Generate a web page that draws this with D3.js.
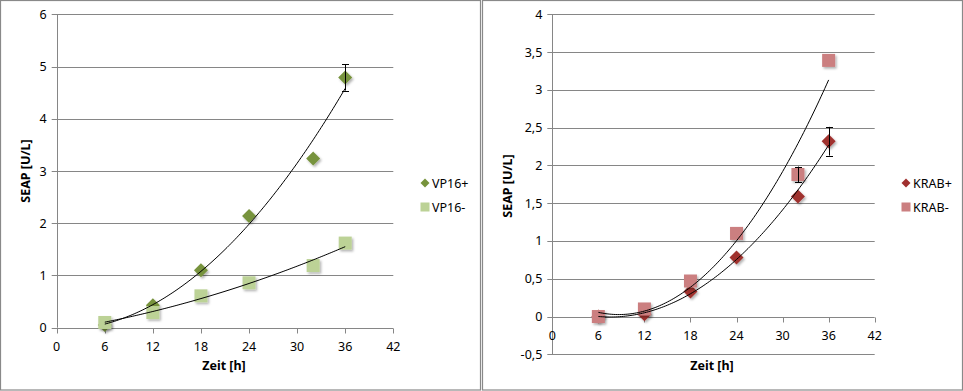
<!DOCTYPE html>
<html><head><meta charset="utf-8">
<script src="https://cdn.jsdelivr.net/npm/d3@7"></script>
<style>
html,body{margin:0;padding:0;background:#fff;}
svg{display:block;font-family:"Noto Sans",sans-serif;}
</style></head>
<body><svg id="c" width="963" height="391"></svg>
<script>
// ---- data ----
const timesH = [6, 12, 18, 24, 32, 36];
const vp16Plus  = [0.05, 0.43, 1.10, 2.14, 3.24, 4.79];
const vp16Minus = [0.10, 0.29, 0.61, 0.86, 1.19, 1.62];
const krabPlus  = [0.00, 0.03, 0.33, 0.78, 1.59, 2.32];
const krabMinus = [0.00, 0.10, 0.47, 1.10, 1.88, 3.39];
const vp16PlusErr  = [0, 0, 0, 0, 0, 0.25];
const vp16MinusErr = [0, 0, 0, 0, 0, 0];
const krabPlusErr  = [0, 0, 0, 0, 0, 0.19];
const krabMinusErr = [0, 0, 0, 0, 0.105, 0];
const xTicks = [0, 6, 12, 18, 24, 30, 36, 42];
const yTicksLeft = [0, 1, 2, 3, 4, 5, 6];
const yTicksRight = [-0.5, 0, 0.5, 1, 1.5, 2, 2.5, 3, 3.5, 4];
const legendLeft = ["VP16+", "VP16-"];
const legendRight = ["KRAB+", "KRAB-"];
const xTitle = "Zeit [h]";
const yTitle = "SEAP [U/L]";

const svg = d3.select("#c");
const defs = svg.append("defs");
const f = defs.append("filter").attr("id","sh").attr("x","-50%").attr("y","-50%").attr("width","200%").attr("height","200%");
f.append("feDropShadow").attr("dx",1.5).attr("dy",1.8).attr("stdDeviation",1.2).attr("flood-color","#000").attr("flood-opacity",0.3);

// least squares quadratic fit
function polyFit2(xs, ys){
  let n=xs.length,S=[0,0,0,0,0],T=[0,0,0];
  for(let i=0;i<n;i++){const x=xs[i],y=ys[i];
    for(let k=0;k<5;k++)S[k]+=Math.pow(x,k);
    for(let k=0;k<3;k++)T[k]+=y*Math.pow(x,k);}
  const A=[[S[0],S[1],S[2],T[0]],[S[1],S[2],S[3],T[1]],[S[2],S[3],S[4],T[2]]];
  for(let i=0;i<3;i++){for(let j=i+1;j<3;j++){const r=A[j][i]/A[i][i];for(let k=i;k<4;k++)A[j][k]-=r*A[i][k];}}
  const c=[0,0,0];
  for(let i=2;i>=0;i--){let s=A[i][3];for(let k=i+1;k<3;k++)s-=A[i][k]*c[k];c[i]=s/A[i][i];}
  return x=>c[0]+c[1]*x+c[2]*x*x;
}

const fmt = v => String(v).replace(".", ",");

function panel(o){
  const g = svg.append("g");
  g.append("rect").attr("x",o.px+0.5).attr("y",0.5).attr("width",o.pw).attr("height",389.5)
    .attr("fill","#fff").attr("stroke","#898989").attr("stroke-width",1.2);
  const x = d3.scaleLinear().domain([0,42]).range(o.xr);
  const y = d3.scaleLinear().domain(o.yd).range(o.yr);
  // grid
  g.append("g").selectAll("line").data(o.yTicks).join("line")
    .attr("x1",x(0)-5).attr("x2",x(42)).attr("y1",d=>Math.round(y(d))+0.5).attr("y2",d=>Math.round(y(d))+0.5)
    .attr("stroke","#868686").attr("stroke-width",1);
  // y axis line
  g.append("line").attr("x1",Math.round(x(0))+0.5).attr("x2",Math.round(x(0))+0.5)
    .attr("y1",y(o.yd[0])).attr("y2",y(o.yd[1])).attr("stroke","#868686");
  // x ticks at y=0
  const y0 = Math.round(y(0))+0.5;
  g.append("g").selectAll("line").data(xTicks).join("line")
    .attr("x1",d=>Math.round(x(d))+0.5).attr("x2",d=>Math.round(x(d))+0.5)
    .attr("y1",y0).attr("y2",y0+5).attr("stroke","#868686");
  // y labels
  g.append("g").selectAll("text").data(o.yTicks).join("text")
    .attr("x",x(0)-10).attr("y",d=>y(d)+4.5).attr("text-anchor","end")
    .attr("font-size",12.5).attr("fill","#000").text(fmt);
  // x labels
  g.append("g").selectAll("text").data(xTicks).join("text")
    .attr("x",d=>x(d)).attr("y",y0+22).attr("text-anchor","middle")
    .attr("font-size",12.5).attr("fill","#000").text(d=>d);
  // titles
  g.append("text").attr("x",o.xtx).attr("y",370).attr("text-anchor","middle")
    .attr("font-size",12.5).attr("font-weight","bold").text(xTitle);
  g.append("text").attr("transform",`translate(${o.ytx},${o.yty}) rotate(-90)`).attr("text-anchor","middle")
    .attr("font-size",12.5).attr("font-weight","bold").text(yTitle);

  // markers
  o.series.forEach(s=>{
    const mg = g.append("g").attr("filter","url(#sh)");
    s.vals.forEach((v,i)=>{
      const cx=x(timesH[i]), cy=y(v);
      if(s.shape==="diamond"){
        mg.append("path").attr("d",`M${cx},${cy-7}L${cx+7},${cy}L${cx},${cy+7}L${cx-7},${cy}Z`).attr("fill",s.color);
      } else {
        mg.append("rect").attr("x",cx-6.5).attr("y",cy-6.5).attr("width",13).attr("height",13).attr("fill",s.color);
      }
    });
  });
  // trend lines and error bars
  o.series.forEach(s=>{
    const fn = polyFit2(timesH, s.vals);
    const xs = d3.range(timesH[0], timesH[timesH.length-1]+0.001, 0.25);
    g.append("path").datum(xs).attr("fill","none").attr("stroke","#000").attr("stroke-width",1)
      .attr("d", d3.line().x(d=>x(d)).y(d=>y(fn(d))));
    s.err.forEach((e,i)=>{
      if(!e) return;
      const cx=Math.round(x(timesH[i]))+0.5, t=y(s.vals[i]+e), b=y(s.vals[i]-e);
      g.append("line").attr("x1",cx).attr("x2",cx).attr("y1",t).attr("y2",b).attr("stroke","#000");
      g.append("line").attr("x1",cx-3.5).attr("x2",cx+3.5).attr("y1",Math.round(t)+0.5).attr("y2",Math.round(t)+0.5).attr("stroke","#000");
      g.append("line").attr("x1",cx-3.5).attr("x2",cx+3.5).attr("y1",Math.round(b)+0.5).attr("y2",Math.round(b)+0.5).attr("stroke","#000");
    });
  });
  // legend
  o.series.forEach((s,i)=>{
    const ly = 183 + i*24, lx = o.lx;
    if(s.shape==="diamond"){
      g.append("path").attr("d",`M${lx},${ly-4.5}L${lx+4.5},${ly}L${lx},${ly+4.5}L${lx-4.5},${ly}Z`).attr("fill",s.color);
    } else {
      g.append("rect").attr("x",lx-4.5).attr("y",ly-4.5).attr("width",9).attr("height",9).attr("fill",s.color);
    }
    g.append("text").attr("x",lx+7).attr("y",ly+4.5).attr("font-size",12.5).text(s.name);
  });
}

panel({px:0, pw:480, xr:[56.7,393.3], yd:[0,6], yr:[327.7,14.3], yTicks:yTicksLeft,
  xtx:224, ytx:30, yty:171, lx:425,
  series:[
    {name:legendLeft[1], vals:vp16Minus, err:vp16MinusErr, shape:"square", color:"#BCD296"},
    {name:legendLeft[0], vals:vp16Plus, err:vp16PlusErr, shape:"diamond", color:"#77933C"}
  ].reverse()
});
panel({px:482, pw:480, xr:[552.3,874.7], yd:[-0.5,4], yr:[354.3,14.3], yTicks:yTicksRight,
  xtx:712, ytx:512, yty:186, lx:906,
  series:[
    {name:legendRight[0], vals:krabPlus, err:krabPlusErr, shape:"diamond", color:"#A0302F"},
    {name:legendRight[1], vals:krabMinus, err:krabMinusErr, shape:"square", color:"#CB7F80"}
  ]
});
</script></body></html>
